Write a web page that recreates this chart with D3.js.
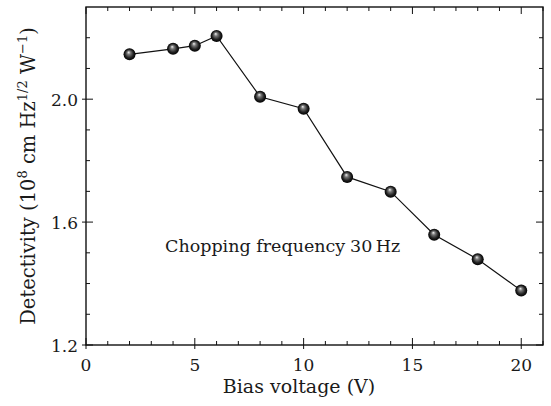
<!DOCTYPE html>
<html><head><meta charset="utf-8">
<script src="https://cdn.jsdelivr.net/npm/d3@7"></script>
<style>body{margin:0;background:#fff}svg{display:block}text{font-family:"DejaVu Serif",serif;fill:#1a1a1a}</style>
</head><body>
<script>
const voltages = [2, 4, 5, 6, 8, 10, 12, 14, 16, 18, 20];
const detectivity = [2.146, 2.164, 2.174, 2.206, 2.008, 1.969, 1.747, 1.699, 1.559, 1.479, 1.377];
const xTicks = [0, 5, 10, 15, 20];
const yTicks = [1.2, 1.6, 2.0];
const xLabel = "Bias voltage (V)";
const annotationA = "Chopping frequency";
const annotationB = "30\u2009Hz";

const W = 551, H = 406;
const m = {left: 86, right: 8, top: 7, bottom: 61};
const svg = d3.select("body").append("svg").attr("width", W).attr("height", H);
const x = d3.scaleLinear().domain([0, 21]).range([m.left, W - m.right]);
const y = d3.scaleLinear().domain([1.2, 2.3]).range([H - m.bottom, m.top]);

const defs = svg.append("defs");
const g = defs.append("radialGradient").attr("id","ball").attr("cx","0.5").attr("cy","0.5").attr("r","0.5").attr("fx","0.42").attr("fy","0.32");
g.append("stop").attr("offset","0").attr("stop-color","#f2f2f2");
g.append("stop").attr("offset","0.3").attr("stop-color","#777");
g.append("stop").attr("offset","0.7").attr("stop-color","#222");
g.append("stop").attr("offset","1").attr("stop-color","#000");

const x0 = m.left, x1 = W - m.right, y0 = H - m.bottom, y1 = m.top;
const axisColor = "#111";

const xMinor = d3.range(0, 22, 1);
const yMinor = d3.range(12, 23).map(d => d / 10);
const tk = svg.append("g").attr("stroke", axisColor).attr("stroke-width", 1);
xMinor.forEach(v => {
  const major = xTicks.includes(v);
  const L = major ? 7 : 4;
  tk.append("line").attr("x1", x(v)).attr("x2", x(v)).attr("y1", y0).attr("y2", y0 - L);
  tk.append("line").attr("x1", x(v)).attr("x2", x(v)).attr("y1", y1).attr("y2", y1 + L);
  if (major) tk.append("line").attr("x1", x(v)).attr("x2", x(v)).attr("y1", y0).attr("y2", y0 + 4);
});
yMinor.forEach(v => {
  const major = yTicks.some(t => Math.abs(t - v) < 1e-9);
  const L = major ? 7 : 4;
  tk.append("line").attr("x1", x0).attr("x2", x0 + L).attr("y1", y(v)).attr("y2", y(v));
  tk.append("line").attr("x1", x1).attr("x2", x1 - L).attr("y1", y(v)).attr("y2", y(v));
  if (major) tk.append("line").attr("x1", x0 - 4).attr("x2", x0).attr("y1", y(v)).attr("y2", y(v));
});

svg.append("rect").attr("x", x0).attr("y", y1).attr("width", x1 - x0).attr("height", y0 - y1)
  .attr("fill", "none").attr("stroke", axisColor).attr("stroke-width", 1.4);

svg.append("g").selectAll("text").data(xTicks).join("text")
  .attr("x", d => x(d)).attr("y", y0 + 26).attr("text-anchor", "middle")
  .attr("font-size", 17).text(d => d);
svg.append("g").selectAll("text").data(yTicks).join("text")
  .attr("x", x0 - 8).attr("y", d => y(d) + 7).attr("text-anchor", "end")
  .attr("font-size", 17).text(d => d.toFixed(1));

svg.append("text").attr("x", 299).attr("y", 393).attr("text-anchor", "middle")
  .attr("font-size", 19).text(xLabel);
const yt = svg.append("text").attr("transform", `translate(35,${(y0 + y1) / 2}) rotate(-90)`)
  .attr("text-anchor", "middle").attr("font-size", 19.5);
yt.append("tspan").text("Detectivity (10");
yt.append("tspan").attr("dy", -8).attr("font-size", 13).text("8");
yt.append("tspan").attr("dy", 8).text(" cm Hz");
yt.append("tspan").attr("dy", -8).attr("font-size", 13).text("1/2");
yt.append("tspan").attr("dy", 8).text(" W");
yt.append("tspan").attr("dy", -8).attr("font-size", 13).text("\u22121");
yt.append("tspan").attr("dy", 8).text(")");

const ann = svg.append("text").attr("y", 252).attr("font-size", 17.5);
ann.append("tspan").attr("x", 165).text(annotationA);
ann.append("tspan").attr("x", 350).text(annotationB);

const pts = voltages.map((v, i) => [v, detectivity[i]]);
svg.append("path").datum(pts)
  .attr("d", d3.line().x(d => x(d[0])).y(d => y(d[1])))
  .attr("fill", "none").attr("stroke", "#111").attr("stroke-width", 1.2);
svg.append("g").selectAll("circle").data(pts).join("circle")
  .attr("cx", d => x(d[0])).attr("cy", d => y(d[1])).attr("r", 6)
  .attr("fill", "url(#ball)");
</script>
</body></html>
